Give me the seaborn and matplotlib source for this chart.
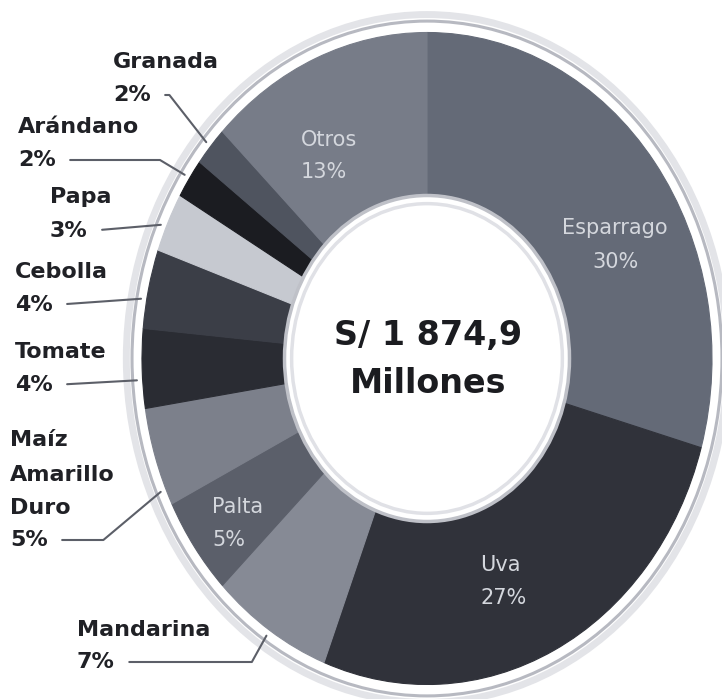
import numpy as np
import matplotlib.pyplot as plt
import seaborn as sns
from matplotlib.patches import Circle

# === Datos ===
productos = ["Esparrago", "Uva", "Mandarina", "Palta", "Maíz Amarillo Duro",
             "Tomate", "Cebolla", "Papa", "Arándano", "Granada", "Otros"]
porcentajes = [30, 27, 7, 5, 5, 4, 4, 3, 2, 2, 13]
grises = ["#646a77", "#30323a", "#868a95", "#5b5f6a", "#7c808b",
          "#2a2c33", "#3b3e47", "#c6c9d0", "#1b1c21", "#4f545f", "#777c88"]
total_monto = "S/ 1 874,9"
total_unidad = "Millones"

# === Estilo ===
sns.set_theme(style="white")
plt.rcParams["font.family"] = ["DejaVu Sans"]

W, H = 722, 699
fig = plt.figure(figsize=(W / 100, H / 100), dpi=100)
ax = fig.add_axes([0, 0, 1, 1])

# centro y radios de la dona en pixeles (imagen estirada en vertical)
cx, cy, rx, ry = 427, 358.5, 285, 326


def px(x, y):
    # pixel (desde arriba-izquierda) -> fraccion de ejes
    return x / W, 1 - y / H


# === Dona ===
wedges, _ = ax.pie(porcentajes, colors=sns.color_palette(grises), startangle=90,
                   counterclock=False, radius=1.0,
                   wedgeprops=dict(width=0.51, linewidth=0.8))
for w in wedges:
    w.set_edgecolor(w.get_facecolor())

ax.add_patch(Circle((0, 0), 1.055, fc="white", ec="#e3e4e8", lw=5, zorder=0))
ax.add_patch(Circle((0, 0), 1.035, fc="white", ec="#b7b9c1", lw=2.2, zorder=0))
ax.add_patch(Circle((0, 0), 0.50, fc="white", ec="#bfc1c8", lw=2.5, zorder=3))
ax.add_patch(Circle((0, 0), 0.475, fill=False, ec="#e0e1e6", lw=2.5, zorder=3))

ax.set_aspect("auto")
ax.set_xlim(-cx / rx, (W - cx) / rx)
ax.set_ylim((cy - H) / ry, cy / ry)
ax.axis("off")

# === Texto central ===
ax.text(*px(428, 336), total_monto, transform=ax.transAxes, ha="center", va="center",
        fontsize=24, fontweight="bold", color="#1b1c20", zorder=5)
ax.text(*px(428, 383), total_unidad, transform=ax.transAxes, ha="center", va="center",
        fontsize=24, fontweight="bold", color="#1b1c20", zorder=5)

# === Etiquetas interiores: (x, y nombre, y pct, alineacion) ===
interiores = {
    "Esparrago": (615, 228, 262, "center"),
    "Uva": (480, 565, 598, "left"),
    "Palta": (212, 507, 540, "left"),
    "Otros": (301, 140, 172, "left"),
}
for nombre, (x, y1, y2, ha) in interiores.items():
    pct = porcentajes[productos.index(nombre)]
    for txt, y in [(nombre, y1), (f"{pct}%", y2)]:
        ax.text(*px(x, y), txt, transform=ax.transAxes, ha=ha, va="center",
                fontsize=15, color="#d4d7dd", zorder=5)

# === Etiquetas exteriores: (x, [y lineas nombre], y pct, angulo quiebre, ajuste angulo) ===
exteriores = {
    "Granada": (113, [62], 95, 128, 0),
    "Arándano": (18, [127], 160, 149, 0),
    "Papa": (50, [197], 231, None, 1),
    "Cebolla": (15, [272], 305, None, 2),
    "Tomate": (15, [352], 385, None, 2),
    "Maíz Amarillo Duro": (10, [440, 475, 508], 540, 220, 6),
    "Mandarina": (77, [630], 662, 241, 0),
}
for nombre, (x, ys, ypct, quiebre, dang) in exteriores.items():
    i = productos.index(nombre)
    lineas = nombre.split() if len(ys) > 1 else [nombre]
    for txt, y in zip(lineas, ys):
        ax.text(*px(x, y), txt, transform=ax.transAxes, ha="left", va="center",
                fontsize=16, fontweight="bold", color="#202126")
    w = wedges[i]
    ang = np.deg2rad((w.theta1 + w.theta2) / 2 + dang)
    punto = (1.02 * np.cos(ang), 1.02 * np.sin(ang))
    estilo = "arc3,rad=0" if quiebre is None else f"angle,angleA=0,angleB={quiebre},rad=0"
    ax.annotate(f"{porcentajes[i]}%", xy=punto, xycoords="data",
                xytext=px(x, ypct), textcoords="axes fraction",
                ha="left", va="center", fontsize=16, fontweight="bold", color="#202126",
                arrowprops=dict(arrowstyle="-", color="#5c5f68", lw=1.5,
                                shrinkA=8, shrinkB=0, relpos=(1, 0.5),
                                connectionstyle=estilo),
                zorder=6)

fig.savefig("out.png", dpi=100, facecolor="white")
